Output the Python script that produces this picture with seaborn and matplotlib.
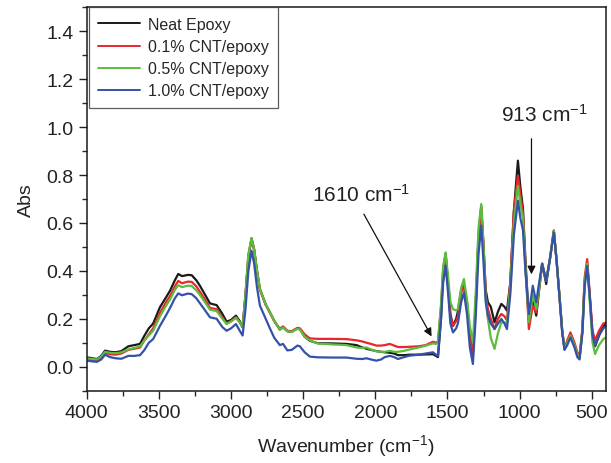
import numpy as np
import pandas as pd
import seaborn as sns
import matplotlib
matplotlib.use("Agg")
import matplotlib.pyplot as plt
from matplotlib.ticker import MultipleLocator

# wavenumbers (cm-1)
wavenumber = [4000, 3960, 3930, 3900, 3873, 3840, 3800, 3760, 3712, 3670, 3631, 3600, 3570, 3540,
              3493, 3450, 3423, 3390, 3366, 3340, 3300, 3273, 3240, 3216, 3180, 3146, 3100, 3060,
              3031, 3000, 2966, 2940, 2920, 2900, 2880, 2858, 2840, 2820, 2800, 2760, 2731, 2700,
              2662, 2640, 2610, 2580, 2540, 2523, 2490, 2454, 2400, 2300, 2200, 2131, 2090, 2062,
              2030, 1993, 1960, 1935, 1900, 1870, 1843, 1800, 1762, 1700, 1650, 1601, 1580, 1566,
              1545, 1530, 1513, 1495, 1480, 1462, 1440, 1428, 1405, 1386, 1365, 1345, 1324, 1305,
              1285, 1266, 1250, 1235, 1220, 1200, 1174, 1150, 1127, 1105, 1088, 1065, 1040, 1012,
              995, 977, 960, 936, 909, 885, 865, 844, 816, 790, 763, 745, 724, 705, 689, 670, 648,
              620, 600, 585, 565, 550, 532, 515, 495, 477, 450, 420, 400]

neat_epoxy = [0.039, 0.035, 0.032, 0.045, 0.067, 0.062, 0.06, 0.065, 0.085, 0.09, 0.095, 0.13, 0.16, 0.18,
              0.248, 0.29, 0.317, 0.36, 0.387, 0.378, 0.383, 0.382, 0.36, 0.338, 0.3, 0.264, 0.257, 0.22,
              0.188, 0.195, 0.213, 0.19, 0.164, 0.3, 0.46, 0.536, 0.49, 0.4, 0.324, 0.26, 0.227, 0.19,
              0.155, 0.165, 0.148, 0.145, 0.16, 0.157, 0.125, 0.108, 0.098, 0.097, 0.095, 0.09, 0.08, 0.075,
              0.07, 0.065, 0.062, 0.06, 0.058, 0.055, 0.048, 0.048, 0.05, 0.05, 0.051, 0.052, 0.045, 0.04,
              0.2, 0.4, 0.472, 0.34, 0.22, 0.17, 0.2, 0.23, 0.32, 0.338, 0.27, 0.13, 0.05, 0.25,
              0.55, 0.67, 0.5, 0.32, 0.269, 0.25, 0.185, 0.23, 0.262, 0.25, 0.234, 0.35, 0.65, 0.86,
              0.75, 0.66, 0.45, 0.195, 0.283, 0.213, 0.32, 0.43, 0.345, 0.45, 0.568, 0.45, 0.296, 0.15, 0.074, 0.1, 0.13,
              0.09, 0.05, 0.035, 0.15, 0.35, 0.43, 0.3, 0.13, 0.085, 0.13, 0.17, 0.18]

cnt_01 = [0.03, 0.028, 0.026, 0.038, 0.058, 0.052, 0.05, 0.055, 0.07, 0.075, 0.08, 0.11, 0.135, 0.16,
          0.225, 0.27, 0.295, 0.335, 0.358, 0.348, 0.355, 0.354, 0.335, 0.313, 0.28, 0.245, 0.24, 0.205,
          0.18, 0.19, 0.205, 0.185, 0.165, 0.3, 0.46, 0.532, 0.485, 0.395, 0.32, 0.258, 0.225, 0.19,
          0.158, 0.168, 0.15, 0.148, 0.162, 0.16, 0.135, 0.118, 0.116, 0.116, 0.115, 0.11, 0.105, 0.1,
          0.095, 0.088, 0.088, 0.09, 0.095, 0.088, 0.082, 0.082, 0.083, 0.085, 0.09, 0.104, 0.1, 0.105,
          0.25, 0.4, 0.465, 0.33, 0.21, 0.171, 0.19, 0.21, 0.31, 0.338, 0.25, 0.12, 0.06, 0.25,
          0.54, 0.66, 0.5, 0.3, 0.241, 0.2, 0.157, 0.2, 0.22, 0.21, 0.193, 0.35, 0.65, 0.797,
          0.72, 0.64, 0.42, 0.157, 0.255, 0.227, 0.33, 0.43, 0.359, 0.45, 0.568, 0.45, 0.296, 0.15, 0.074, 0.11, 0.143,
          0.1, 0.06, 0.045, 0.16, 0.37, 0.449, 0.31, 0.15, 0.109, 0.15, 0.18, 0.185]

cnt_05 = [0.035, 0.032, 0.03, 0.042, 0.062, 0.058, 0.056, 0.06, 0.072, 0.078, 0.085, 0.11, 0.13, 0.15,
          0.21, 0.255, 0.28, 0.32, 0.34, 0.332, 0.338, 0.337, 0.318, 0.3, 0.268, 0.238, 0.232, 0.2,
          0.178, 0.188, 0.205, 0.185, 0.165, 0.3, 0.47, 0.536, 0.49, 0.4, 0.324, 0.26, 0.227, 0.19,
          0.155, 0.163, 0.148, 0.145, 0.158, 0.155, 0.125, 0.11, 0.097, 0.093, 0.09, 0.08, 0.078, 0.08,
          0.072, 0.064, 0.062, 0.062, 0.066, 0.062, 0.062, 0.066, 0.072, 0.08, 0.088, 0.097, 0.095, 0.1,
          0.26, 0.42, 0.477, 0.37, 0.27, 0.24, 0.235, 0.24, 0.33, 0.366, 0.28, 0.17, 0.1, 0.3,
          0.58, 0.679, 0.5, 0.28, 0.2, 0.12, 0.074, 0.14, 0.185, 0.185, 0.18, 0.33, 0.6, 0.755,
          0.68, 0.62, 0.42, 0.185, 0.3, 0.24, 0.33, 0.43, 0.359, 0.45, 0.568, 0.45, 0.296, 0.15, 0.074, 0.1, 0.13,
          0.09, 0.05, 0.035, 0.15, 0.35, 0.43, 0.28, 0.1, 0.053, 0.09, 0.115, 0.123]

cnt_10 = [0.025, 0.022, 0.02, 0.03, 0.05, 0.04, 0.035, 0.033, 0.045, 0.045, 0.048, 0.07, 0.1, 0.115,
          0.17, 0.215, 0.245, 0.285, 0.306, 0.298, 0.305, 0.303, 0.285, 0.265, 0.235, 0.206, 0.2, 0.165,
          0.15, 0.16, 0.178, 0.15, 0.13, 0.24, 0.4, 0.484, 0.43, 0.33, 0.255, 0.2, 0.16, 0.12,
          0.09, 0.095, 0.068, 0.07, 0.088, 0.085, 0.06, 0.042, 0.039, 0.038, 0.038, 0.033, 0.032, 0.035,
          0.03, 0.025, 0.03, 0.04, 0.045, 0.04, 0.032, 0.04, 0.046, 0.05, 0.055, 0.06, 0.05, 0.045,
          0.2, 0.35, 0.422, 0.3, 0.18, 0.143, 0.16, 0.18, 0.27, 0.31, 0.22, 0.08, 0.011, 0.2,
          0.47, 0.589, 0.43, 0.27, 0.213, 0.18, 0.157, 0.18, 0.199, 0.18, 0.157, 0.3, 0.55, 0.693,
          0.62, 0.57, 0.4, 0.22, 0.338, 0.269, 0.35, 0.429, 0.359, 0.45, 0.56, 0.45, 0.29, 0.14, 0.07, 0.09, 0.122,
          0.08, 0.04, 0.03, 0.14, 0.33, 0.42, 0.3, 0.13, 0.088, 0.13, 0.16, 0.17]

labels = ["Neat Epoxy", "0.1% CNT/epoxy", "0.5% CNT/epoxy", "1.0% CNT/epoxy"]
colors = ["#1a1a1a", "#e8262b", "#5cbd3c", "#3452a8"]

x_ticks = [4000, 3500, 3000, 2500, 2000, 1500, 1000, 500]
y_ticks = [0.0, 0.2, 0.4, 0.6, 0.8, 1.0, 1.2, 1.4]

frames = []
for name, vals in zip(labels, [neat_epoxy, cnt_01, cnt_05, cnt_10]):
    frames.append(pd.DataFrame({"wn": wavenumber, "abs": vals, "sample": name}))
df = pd.concat(frames, ignore_index=True)

sns.set_style("ticks")
plt.rcParams["font.family"] = ["Liberation Sans", "DejaVu Sans"]
plt.rcParams["mathtext.fontset"] = "custom"
plt.rcParams["mathtext.rm"] = "Liberation Sans"
plt.rcParams["mathtext.default"] = "regular"

fig, ax = plt.subplots(figsize=(6.11, 4.64), dpi=100)
fig.subplots_adjust(left=0.142, right=0.991, top=0.982, bottom=0.156)

sns.lineplot(data=df, x="wn", y="abs", hue="sample", palette=colors, hue_order=labels,
             estimator=None, sort=False, linewidth=1.6, ax=ax)

ax.set_xlim(4000, 405)
ax.set_ylim(-0.1, 1.5)
ax.set_xticks(x_ticks)
ax.set_yticks(y_ticks)
ax.set_yticklabels([f"{v:.1f}" for v in y_ticks])
ax.xaxis.set_minor_locator(MultipleLocator(250))
ax.yaxis.set_minor_locator(MultipleLocator(0.1))
ax.tick_params(which="major", direction="out", length=6, width=1.0, labelsize=14, colors="#222222")
ax.tick_params(which="minor", direction="out", length=3.5, width=1.0)
for sp in ax.spines.values():
    sp.set_linewidth(1.1)
    sp.set_color("#1a1a1a")

ax.set_xlabel("Wavenumber (cm$^{-1}$)", fontsize=14, color="#222222", labelpad=8)
ax.set_ylabel("Abs", fontsize=14, color="#222222", labelpad=8)

# annotations
ax.text(828, 1.055, "913 cm$^{-1}$", fontsize=15, ha="center", va="center", color="#222222")
ax.annotate("", xy=(918, 0.374), xytext=(918, 0.963),
            arrowprops=dict(arrowstyle="-|>", color="#111111", lw=0.9, mutation_scale=12))
ax.text(2098, 0.72, "1610 cm$^{-1}$", fontsize=15, ha="center", va="center", color="#222222")
ax.annotate("", xy=(1601, 0.116), xytext=(2089, 0.647),
            arrowprops=dict(arrowstyle="-|>", color="#111111", lw=0.9, mutation_scale=12))

leg = ax.legend(loc="upper left", bbox_to_anchor=(0.004, 1.0), borderaxespad=0, fontsize=11.5,
                frameon=True, fancybox=False, handlelength=2.6, handletextpad=0.5,
                labelspacing=0.45, borderpad=0.6)
leg.get_frame().set_edgecolor("#333333")
leg.get_frame().set_linewidth(0.9)
for line in leg.get_lines():
    line.set_linewidth(1.4)

fig.savefig("out.png", dpi=100)
